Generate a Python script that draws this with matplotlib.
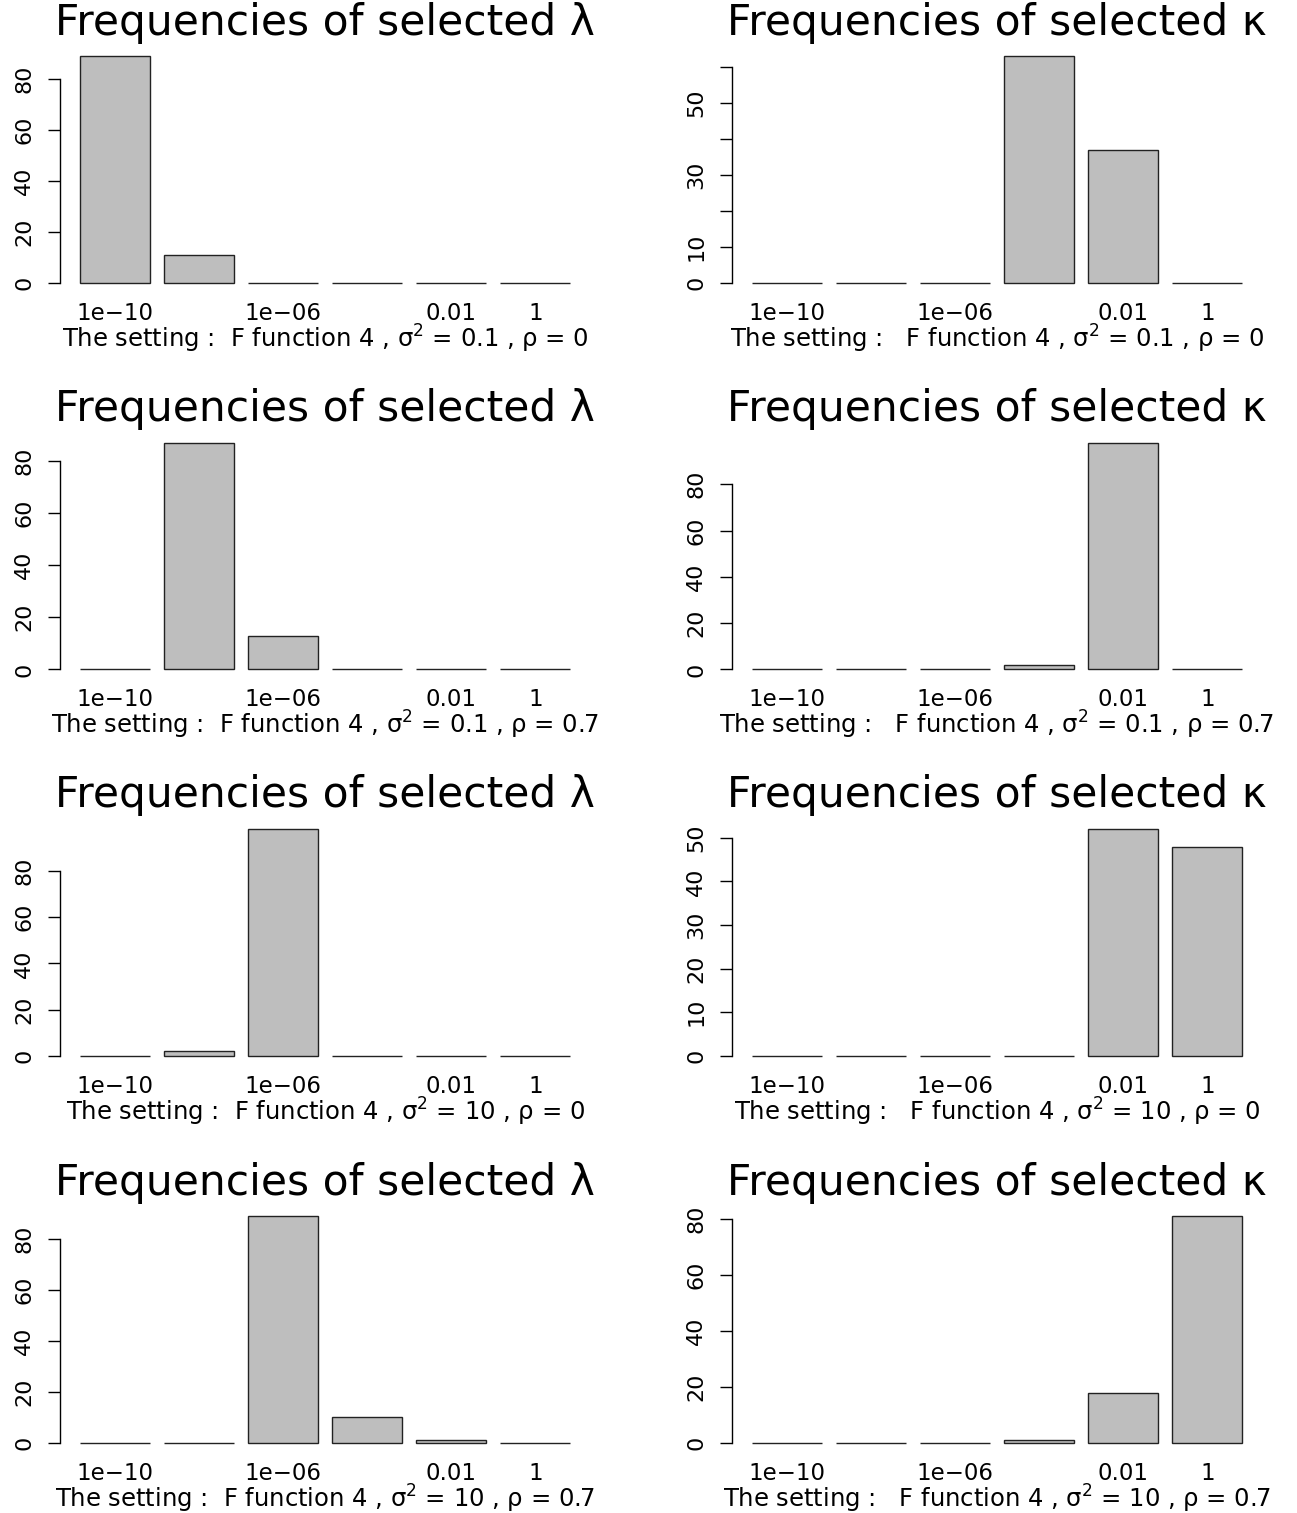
import numpy as np
import matplotlib
matplotlib.use("Agg")
import matplotlib.pyplot as plt

plt.rcParams['font.family'] = ['DejaVu Sans']
plt.rcParams['mathtext.fontset'] = 'dejavusans'

# candidate grid values (only some labels fit under the bars)
grid_labels = ['1e\u221210', '', '1e\u221206', '', '0.01', '1']

# selection counts out of 100 replications, per setting
lam_s01_r0 = [89, 11, 0, 0, 0, 0]
kap_s01_r0 = [0, 0, 0, 63, 37, 0]
lam_s01_r07 = [0, 87, 13, 0, 0, 0]
kap_s01_r07 = [0, 0, 0, 2, 98, 0]
lam_s10_r0 = [0, 2, 98, 0, 0, 0]
kap_s10_r0 = [0, 0, 0, 0, 52, 48]
lam_s10_r07 = [0, 0, 89, 10, 1, 0]
kap_s10_r07 = [0, 0, 0, 1, 18, 81]

# y axis ticks and the labels that are printed
yt_by20 = [0, 20, 40, 60, 80]
yl_by20 = ['0', '20', '40', '60', '80']
yt_k1 = [0, 10, 20, 30, 40, 50, 60]
yl_k1 = ['0', '10', '', '30', '', '50', '']
yt_k6 = [0, 10, 20, 30, 40, 50]
yl_k6 = ['0', '10', '20', '30', '40', '50']

sigma2 = ['0.1', '0.1', '10', '10']
rho = ['0', '0.7', '0', '0.7']

panels = [
    (lam_s01_r0, yt_by20, yl_by20, kap_s01_r0, yt_k1, yl_k1),
    (lam_s01_r07, yt_by20, yl_by20, kap_s01_r07, yt_by20, yl_by20),
    (lam_s10_r0, yt_by20, yl_by20, kap_s10_r0, yt_k6, yl_k6),
    (lam_s10_r07, yt_by20, yl_by20, kap_s10_r07, yt_by20, yl_by20),
]

W, H = 1297, 1513
fig = plt.figure(figsize=(W / 100, H / 100), dpi=100)

col_x = [(60, 590), (732, 1262)]
zero_rows = [283, 669.5, 1056, 1443]
plot_h = 245

centers = 0.7 + 1.2 * np.arange(6)


def draw(ax, counts, yt, yl, sym, sig, rh, wide_gap):
    m = max(counts)
    ax.bar(centers, counts, width=1.0, color='#bebebe', edgecolor='#222222',
           linewidth=1.0)
    ax.set_xlim(-0.08, 7.48)
    ax.set_ylim(-0.04 * m, 1.04 * m)
    for s in ['top', 'right', 'bottom']:
        ax.spines[s].set_visible(False)
    ax.spines['left'].set_bounds(yt[0], yt[-1])
    ax.spines['left'].set_linewidth(1.0)
    ax.set_yticks(yt)
    ax.set_yticklabels(yl, rotation=90, va='center', fontsize=16)
    ax.tick_params(axis='y', length=8.5, width=1.0, pad=10)
    ax.set_xticks(centers)
    ax.set_xticklabels(grid_labels, fontsize=16.5)
    ax.tick_params(axis='x', length=0, pad=7)
    ax.set_title('Frequencies of selected ' + sym, fontsize=30.5, pad=9)
    gap = '   ' if wide_gap else '  '
    ax.text(0.5, -0.19,
            'The setting :' + gap + 'F function 4 , \u03c3$^{2}$ = ' + sig +
            ' , \u03c1 = ' + rh,
            transform=ax.transAxes, ha='center', va='center', fontsize=17.5)


for r, (lv, lyt, lyl, kv, kyt, kyl) in enumerate(panels):
    z = zero_rows[r]
    bottom = z + 9
    for c, (vals, yt, yl, sym, wide) in enumerate(
            [(lv, lyt, lyl, '\u03bb', False), (kv, kyt, kyl, '\u03ba', True)]):
        x0, x1 = col_x[c]
        ax = fig.add_axes([x0 / W, 1 - bottom / H, (x1 - x0) / W, plot_h / H])
        draw(ax, vals, yt, yl, sym, sigma2[r], rho[r], wide)

fig.savefig('out.png', dpi=100)
